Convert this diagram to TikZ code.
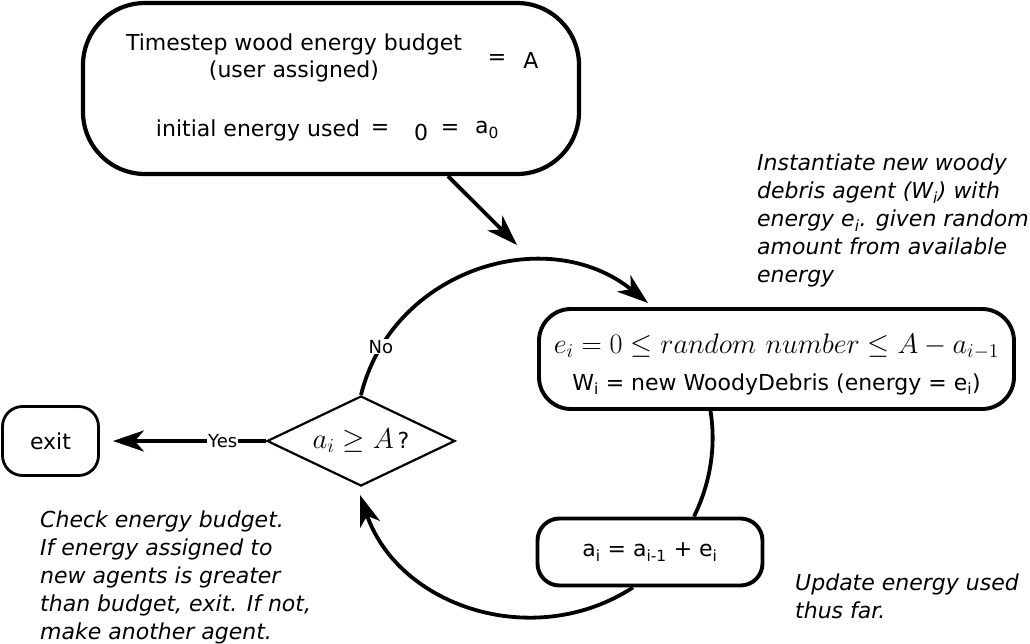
\documentclass[tikz,border=0pt]{standalone}
\usepackage[no-math]{fontspec}
\setmainfont{DejaVu Sans}
\usetikzlibrary{arrows.meta,shapes.geometric}
\tikzset{
  box/.style={draw, rectangle, line width=3.9pt, inner sep=0pt, align=center},
  conn/.style={line width=3.8pt},
  arr/.style={conn, -{Stealth[length=31pt,width=21pt,inset=9pt]}},
  lbl/.style={fill=white, inner sep=1pt, font=\fontsize{18}{20}\selectfont},
  note/.style={anchor=north west, align=left, inner sep=0pt, font=\fontsize{22}{28}\selectfont\itshape},
  txt/.style={inner sep=0pt},
}
\begin{document}
\begin{tikzpicture}[x=1pt,y=-1pt, font=\fontsize{22}{26}\selectfont]
\useasboundingbox (0,0) rectangle (1030,644);
% top box
\node[box, line width=4.2pt, rounded corners=62pt, minimum width=496pt, minimum height=171pt] (top) at (331,88.5) {};
\node[txt] (tA) at (294,44) {Timestep wood energy budget};
\node[txt] (tB) at (294,71) {(user assigned)};
\node[txt] (tEq) at (497,60) {=};
\node[txt] (tAv) at (531,60) {A};
\node[txt] (tC) at (258,130) {initial energy used};
\node[txt] (tEq2) at (380,130) {=};
\node[txt] (tZ) at (421,132) {0};
\node[txt] (tEq3) at (450,130) {=};
\node[txt] (tA0) at (487,130) {a\textsubscript{0}};
% right box
\node[box, rounded corners=32pt, minimum width=475pt, minimum height=100pt] (rbox) at (776.5,359)
  {\rule{0pt}{30pt}\scalebox{1.36}{$e_i = 0 \le random\ number \le A - a_{i-1}$}\\[11pt] W\textsubscript{i} = new WoodyDebris (energy = e\textsubscript{i})};
% update box
\node[box, rounded corners=22pt, minimum width=225pt, minimum height=67pt] (abox) at (650,552)
  {a\textsubscript{i} = a\textsubscript{i-1} + e\textsubscript{i}};
% diamond
\node[draw, diamond, aspect=2.1, line width=2.2pt, minimum width=188pt, minimum height=90pt, inner sep=0pt] (dia) at (361,441) {\scalebox{1.38}{$a_i \ge A$}\,?};
% exit
\node[box, line width=2.8pt, rounded corners=20pt, minimum width=96pt, minimum height=69pt] (exit) at (50.5,441) {exit};
% free ends
\coordinate (c1) at (517,245);
\coordinate (c2) at (648,303);
\coordinate (c3) at (360,495);
% connectors
\draw[arr] ([xshift=117pt]top.south) -- (c1);
\draw[arr] (dia.north) to[out=76,in=141,looseness=1.1] node[lbl,pos=0.14]{No} (c2);
\draw[conn] ([xshift=-66pt]rbox.south) to[out=-81,in=64,looseness=0.88] ([xshift=44pt]abox.north);
\draw[arr] ([xshift=-17pt]abox.south) to[out=213,in=289,looseness=1.05] (c3);
\draw[arr, line width=3.3pt, shorten >=13pt] (dia.west) -- node[lbl,pos=0.26]{Yes} (exit.east);
% notes
\node[note] (n1) at (757,154) {Instantiate new woody\\debris agent (W\textsubscript{i}) with\\energy e\textsubscript{i}. given random\\amount from available\\energy};
\node[note] (n2) at (40,511) {Check energy budget.\\If energy assigned to\\new agents is greater\\than budget, exit. If not,\\make another agent.};
\node[note] (n3) at (795,574) {Update energy used\\thus far.};
\end{tikzpicture}
\end{document}
